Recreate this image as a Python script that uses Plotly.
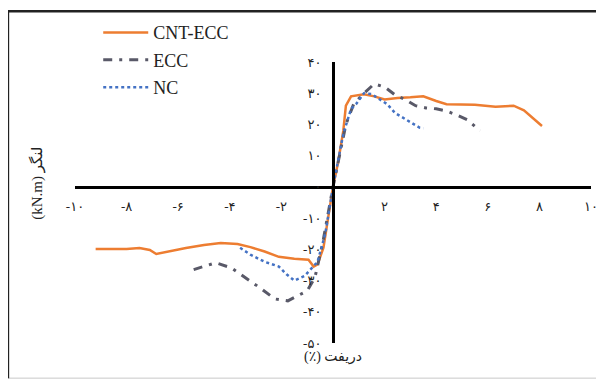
import plotly.graph_objects as go

# drift (%) vs moment (kN.m), envelope curves
cnt_ecc_x = [-9.2, -8.0, -7.5, -7.1, -6.85, -6.3, -5.7, -5.0, -4.35, -3.7, -3.2, -2.65, -2.1, -1.5,
             -0.95, -0.75, -0.6, -0.37, 0.0, 0.2, 0.4, 0.5, 0.7, 1.2, 1.6, 2.0, 2.5, 3.0, 3.5,
             4.0, 4.4, 5.5, 6.3, 7.0, 7.4, 8.1]
cnt_ecc_y = [-19.9, -19.9, -19.6, -20.2, -21.5, -20.5, -19.6, -18.6, -18.0, -18.3, -19.3, -20.7, -22.4, -23.0,
             -23.3, -25.5, -24.8, -19.5, 0.0, 8.0, 18.0, 26.0, 29.0, 29.7, 29.0, 28.0, 28.5, 28.7, 29.0,
             27.5, 26.5, 26.3, 25.7, 26.0, 24.5, 19.5]

ecc_x = [-5.4, -4.55, -3.95, -3.3, -2.8, -2.25, -1.75, -1.4, -1.0, -0.7, -0.4, 0.0,
         0.3, 0.5, 0.8, 1.2, 1.6, 2.0, 2.4, 2.8, 3.2, 3.6, 4.0, 4.4, 4.8, 5.2, 5.7]
ecc_y = [-26.5, -24.3, -25.9, -29.5, -32.5, -35.9, -36.5, -35.0, -33.3, -29.0, -18.0, 0.0,
         12.0, 20.0, 26.5, 30.0, 33.0, 32.0, 29.5, 28.0, 26.0, 25.3, 25.0, 24.3, 23.0, 21.5, 18.0]

nc_x = [-3.6, -3.2, -2.65, -2.1, -1.8, -1.5, -1.1, -0.8, -0.6, -0.3, 0.0,
        0.4, 0.7, 0.9, 1.2, 1.5, 2.1, 2.4, 2.8, 3.35, 3.5]
nc_y = [-19.5, -21.7, -24.0, -25.5, -28.0, -30.0, -28.5, -26.0, -24.0, -15.0, 0.0,
        17.0, 25.0, 26.6, 30.0, 29.7, 26.5, 23.7, 21.7, 19.0, 18.8]

x_ticks = [-10, -8, -6, -4, -2, 2, 4, 6, 8, 10]
x_labels = ["-۱۰", "-۸", "-۶", "-۴", "-۲", "۲", "۴", "۶", "۸", "۱۰"]
y_ticks = [40, 30, 20, 10, 0, -10, -20, -30, -40, -50]
y_labels = ["۴۰", "۳۰", "۲۰", "۱۰", "۰", "-۱۰", "-۲۰", "-۳۰", "-۴۰", "-۵۰"]

FONT = "Liberation Serif, DejaVu Sans, serif"

fig = go.Figure()
fig.add_trace(go.Scatter(x=cnt_ecc_x, y=cnt_ecc_y, mode="lines", name="CNT-ECC", legendgroup="a",
                         line=dict(color="#ED7D31", width=2.5)))
fig.add_trace(go.Scatter(x=ecc_x, y=ecc_y, mode="lines", name="ECC", legendgroup="b",
                         line=dict(color="#595968", width=3, dash="9px,7px,3px,7px")))
fig.add_trace(go.Scatter(x=nc_x, y=nc_y, mode="lines", name="NC", legendgroup="c",
                         line=dict(color="#4472C4", width=2.5, dash="dot")))

# frame around the whole picture (paper coords extend past the plot area)
fig.add_shape(type="rect", xref="paper", yref="paper", x0=-0.13, x1=1.03, y0=-0.125, y1=1.181,
              line=dict(color="#c8c8c8", width=1), layer="below")
fig.add_shape(type="line", xref="paper", yref="paper", x0=-0.13, x1=1.03, y0=1.181, y1=1.181,
              line=dict(color="#222", width=2.5))
fig.add_shape(type="line", xref="paper", yref="paper", x0=-0.13, x1=-0.13, y0=-0.125, y1=1.181,
              line=dict(color="#222", width=2.5))

fig.add_annotation(text="(٪) دریفت", xref="paper", yref="paper", x=0.5, y=-0.085,
                   showarrow=False, font=dict(family=FONT, size=14, color="#222"))
fig.add_annotation(text="(kN.m) لنگر", xref="paper", yref="paper", x=-0.095, y=0.57,
                   textangle=-90, showarrow=False, font=dict(family=FONT, size=15, color="#222"))

# page body adds an 8px offset, so the figure is 8px smaller and margins shifted
fig.update_layout(
    width=596, height=373, margin=dict(l=67, r=13, t=54, b=38, autoexpand=False),
    paper_bgcolor="white", plot_bgcolor="white",
    font=dict(family=FONT, size=13, color="#222"),
    showlegend=True,
    legend=dict(x=0.045, y=1.17, xanchor="left", yanchor="top", bgcolor="rgba(0,0,0,0)",
                font=dict(family=FONT, size=18, color="#222"), tracegroupgap=1,
                traceorder="grouped", itemwidth=45),
    xaxis=dict(range=[-10, 10], anchor="free", position=50 / 90, showgrid=False, zeroline=False,
               showline=True, linecolor="black", linewidth=3, ticks="",
               tickvals=x_ticks, ticktext=x_labels, ticklabelstandoff=7),
    yaxis=dict(range=[-50, 40], anchor="free", position=0.5, showgrid=False, zeroline=False,
               showline=True, linecolor="black", linewidth=3, ticks="",
               tickvals=y_ticks, ticktext=y_labels, ticklabelstandoff=8),
)

fig.write_html("out.html")
